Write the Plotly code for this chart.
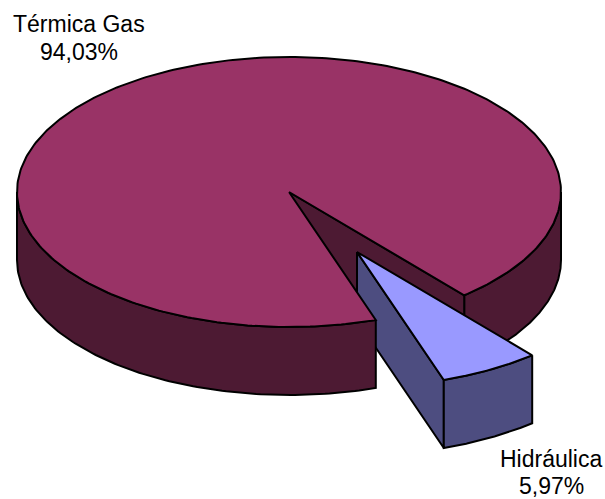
import numpy as np
import plotly.graph_objects as go

# datos del grafico
labels = ["Hidráulica", "Térmica Gas"]
values = [5.97, 94.03]
colors_top = ["#9999FF", "#993366"]
colors_side = ["#4D4D80", "#4D1A33"]

# geometria de la torta 3D (pixeles)
W, H = 605, 499
CX, CY = 289.0, 192.0
RX, RY = 272.0, 135.0
DEPTH = 68.0
EXPLODE = 0.51
START = 49.9  # grados, horario desde el este

share = values[0] / sum(values) * 360
a0, a1 = START, START + share
mid = np.radians((a0 + a1) / 2)
sx = CX + EXPLODE * RX * np.cos(mid)
sy = CY + EXPLODE * RY * np.sin(mid)


def arc(cx, cy, d0, d1, n=120, dz=0.0):
    t = np.radians(np.linspace(d0, d1, n))
    return cx + RX * np.cos(t), cy + RY * np.sin(t) + dz


def poly(xs, ys, color):
    xs = list(xs) + [xs[0]]
    ys = list(ys) + [ys[0]]
    return go.Scatter(x=xs, y=ys, mode="lines", fill="toself", fillcolor=color,
                      line={"color": "black", "width": 2}, hoverinfo="skip", showlegend=False)


def side(cx, cy, d0, d1, color):
    x1, y1 = arc(cx, cy, d0, d1)
    x2, y2 = arc(cx, cy, d1, d0, dz=DEPTH)
    return poly(np.r_[x1, x2], np.r_[y1, y2], color)


def wall(cx, cy, d, color):
    x, y = arc(cx, cy, d, d, n=1)
    return poly([cx, x[0], x[0], cx], [cy, y[0], y[0] + DEPTH, cy + DEPTH], color)


def top(cx, cy, d0, d1, color):
    x, y = arc(cx, cy, d0, d1, n=360)
    return poly(np.r_[cx, x], np.r_[cy, y], color)


fig = go.Figure()
# parte trasera de la torta y pared del corte
fig.add_trace(side(CX, CY, 0, a0, colors_side[1]))
fig.add_trace(wall(CX, CY, a0, colors_side[1]))
# porcion separada
fig.add_trace(wall(sx, sy, a1, colors_side[0]))
fig.add_trace(side(sx, sy, a0, a1, colors_side[0]))
fig.add_trace(top(sx, sy, a0, a1, colors_top[0]))
# parte delantera y tapa
fig.add_trace(side(CX, CY, a1, 180, colors_side[1]))
fig.add_trace(top(CX, CY, a1, a0 + 360, colors_top[1]))

label_pos = {"Hidráulica": (551, 459, 486), "Térmica Gas": (79, 24, 52)}
for name, v in zip(labels, values):
    x, y1, y2 = label_pos[name]
    pct = f"{v:.2f}".replace(".", ",") + "%"
    for txt, y in ((name, y1), (pct, y2)):
        fig.add_annotation(x=x, y=y, text=txt, showarrow=False, xanchor="center", yanchor="middle",
                           font={"family": "Liberation Sans", "size": 23, "color": "black"})

fig.update_layout(
    width=W, height=H, margin={"l": 0, "r": 0, "t": 0, "b": 0},
    paper_bgcolor="white", plot_bgcolor="white", showlegend=False,
    xaxis={"range": [0, W], "visible": False, "fixedrange": True},
    yaxis={"range": [H, 0], "visible": False, "fixedrange": True},
)
# sin margen del body para que el grafico ocupe toda la ventana
fig.write_html("out.html", config={"displayModeBar": False},
               post_script="document.body.style.margin='0';document.documentElement.style.overflow='hidden';")
